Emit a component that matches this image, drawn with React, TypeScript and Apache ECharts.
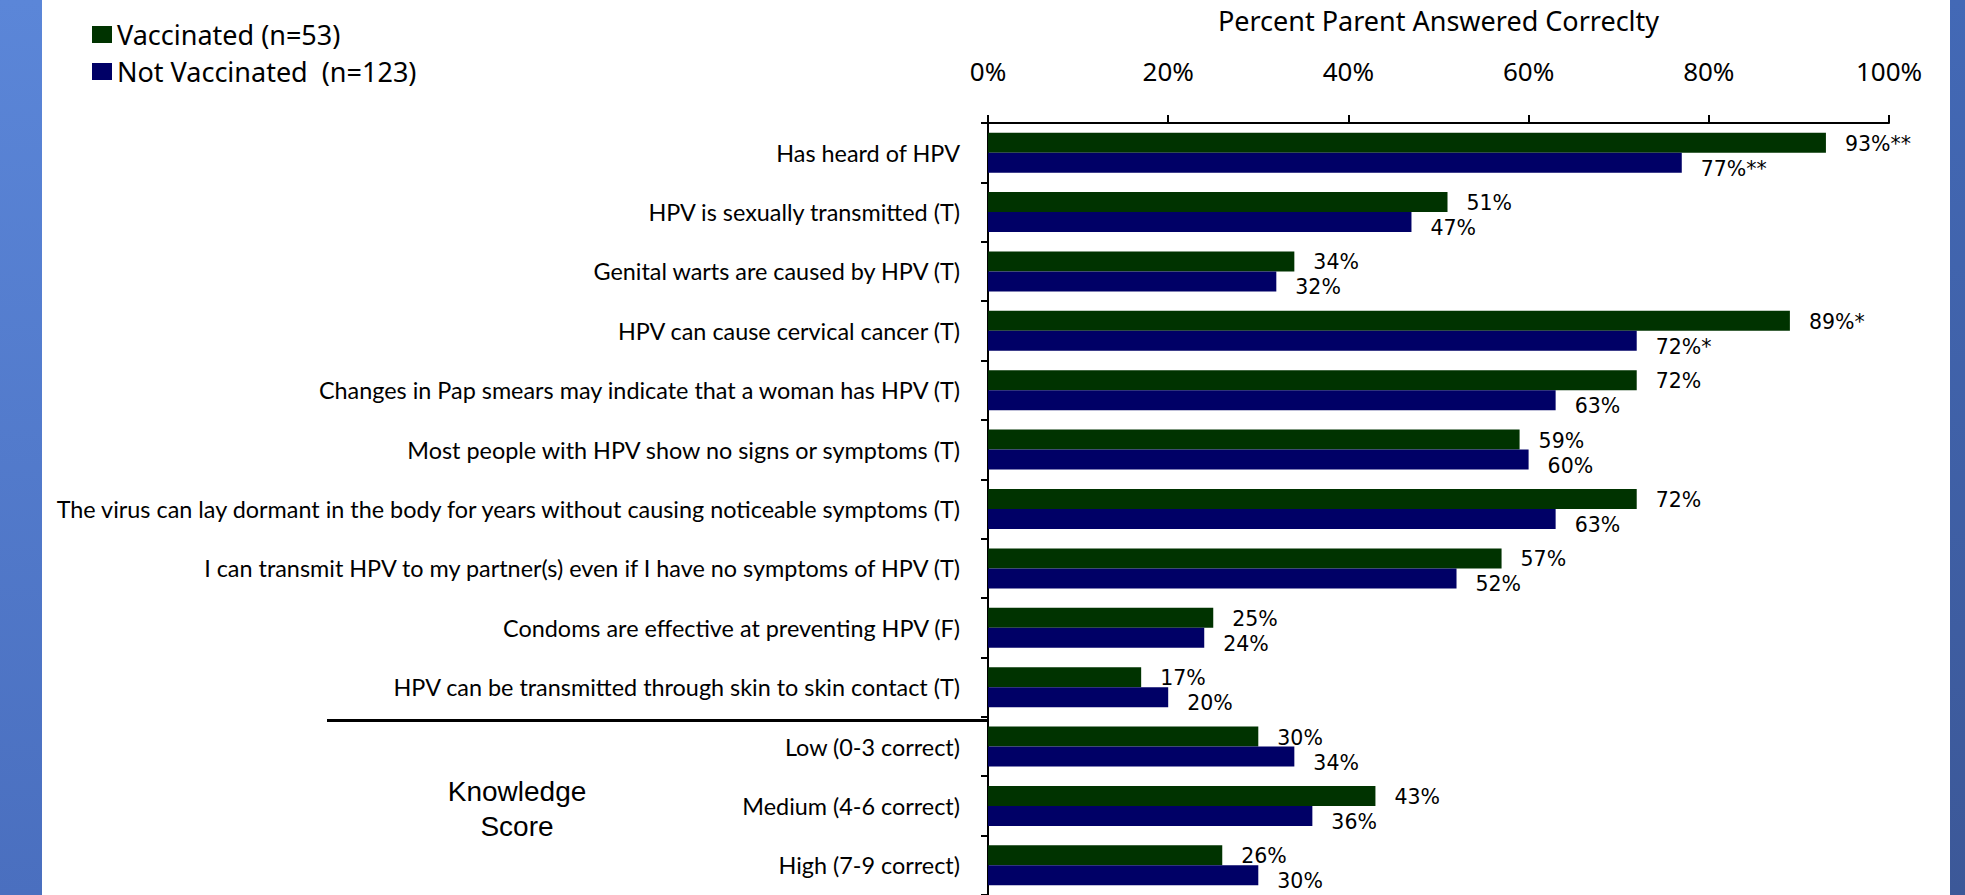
import React, { useEffect, useRef } from "react";
import * as echarts from "echarts";

const categories = [
  "Has heard of HPV",
  "HPV is sexually transmitted (T)",
  "Genital warts are caused by HPV (T)",
  "HPV can cause cervical cancer (T)",
  "Changes in Pap smears may indicate that a woman has HPV (T)",
  "Most people with HPV show no signs or symptoms (T)",
  "The virus can lay dormant in the body for years without causing noticeable symptoms (T)",
  "I can transmit HPV to my partner(s) even if I have no symptoms of HPV (T)",
  "Condoms are effective at preventing HPV (F)",
  "HPV can be transmitted through skin to skin contact (T)",
  "Low (0-3 correct)",
  "Medium (4-6 correct)",
  "High (7-9 correct)",
];
const vaccinated = [93, 51, 34, 89, 72, 59, 72, 57, 25, 17, 30, 43, 26];
const notVaccinated = [77, 47, 32, 72, 63, 60, 63, 52, 24, 20, 34, 36, 30];
const vaccinatedMarks = ["**", "", "", "*", "", "", "", "", "", "", "", "", ""];
const notVaccinatedMarks = ["**", "", "", "*", "", "", "", "", "", "", "", "", ""];
const seriesNames = ["Vaccinated (n=53)", "Not Vaccinated  (n=123)"];
const axisTitle = "Percent Parent Answered Correclty";
const groupTitle = "Knowledge\nScore";
const xMin = 0;
const xMax = 100;
const xInterval = 20;

export default function App() {
  const ref = useRef<HTMLDivElement>(null);
  useEffect(() => {
    if (!ref.current) return;
    const chart = echarts.init(ref.current, undefined, { renderer: "svg" });
    const gridTop = 123;
    const band = 59.85;
    const gridLeft = 988;
    chart.setOption({
      animation: false,
      backgroundColor: "#ffffff",
      legend: {
        orient: "vertical",
        left: 87,
        top: 16,
        itemWidth: 20,
        itemHeight: 17,
        itemGap: 10,
        icon: "rect",
        data: seriesNames,
        textStyle: { fontFamily: "Noto Sans", fontSize: 27, color: "#000", lineHeight: 27 },
      },
      grid: { left: gridLeft, top: gridTop, width: 901, height: band * categories.length, containLabel: false },
      xAxis: {
        type: "value",
        position: "top",
        min: xMin,
        max: xMax,
        interval: xInterval,
        name: axisTitle,
        nameLocation: "middle",
        nameGap: 89,
        nameTextStyle: { fontFamily: "Noto Sans", fontSize: 27, color: "#000" },
        axisLine: { show: true, lineStyle: { color: "#000", width: 2 } },
        axisTick: { show: true, length: 8, lineStyle: { color: "#000", width: 2 } },
        axisLabel: {
          formatter: "{value}%",
          margin: 39,
          fontFamily: "Noto Sans",
          fontSize: 26,
          color: "#000",
        },
        splitLine: { show: false },
      },
      yAxis: {
        type: "category",
        inverse: true,
        data: categories,
        axisLine: { show: true, lineStyle: { color: "#000", width: 2 } },
        axisTick: { show: true, length: 7, lineStyle: { color: "#000", width: 2 } },
        axisLabel: { margin: 28, fontFamily: "Lato", fontSize: 23.4, color: "#000" },
        splitLine: { show: false },
      },
      series: [
        {
          name: seriesNames[0],
          type: "bar",
          data: vaccinated,
          barWidth: 20,
          barGap: "0%",
          itemStyle: { color: "#003300" },
          label: {
            show: true,
            position: "right",
            distance: 19,
            offset: [0, 1],
            fontFamily: "DejaVu Sans",
            fontSize: 20.5,
            color: "#000",
            formatter: (p: any) => `${p.value}%${vaccinatedMarks[p.dataIndex]}`,
          },
        },
        {
          name: seriesNames[1],
          type: "bar",
          data: notVaccinated,
          barWidth: 20,
          barGap: "0%",
          itemStyle: { color: "#000066" },
          label: {
            show: true,
            position: "right",
            distance: 19,
            offset: [0, 6],
            fontFamily: "DejaVu Sans",
            fontSize: 20.5,
            color: "#000",
            formatter: (p: any) => `${p.value}%${notVaccinatedMarks[p.dataIndex]}`,
          },
        },
      ],
      graphic: [
        {
          type: "rect",
          shape: { x: 0, y: 0, width: 42, height: 895 },
          style: {
            fill: new echarts.graphic.LinearGradient(0, 0, 0, 1, [
              { offset: 0, color: "#5b86d8" },
              { offset: 1, color: "#4a6fbf" },
            ]),
          },
          z: 0,
        },
        {
          type: "rect",
          shape: { x: 1950, y: 0, width: 15, height: 895 },
          style: {
            fill: new echarts.graphic.LinearGradient(0, 0, 0, 1, [
              { offset: 0, color: "#4369b6" },
              { offset: 1, color: "#3c5898" },
            ]),
          },
          z: 0,
        },
        {
          type: "line",
          shape: { x1: 327, y1: gridTop + band * 10 - 1, x2: gridLeft, y2: gridTop + band * 10 - 1 },
          style: { stroke: "#000", lineWidth: 3 },
          z: 10,
        },
        {
          type: "text",
          x: 517,
          y: gridTop + band * 11.5 - 2,
          style: {
            text: groupTitle,
            fontFamily: "Liberation Sans",
            fontSize: 28,
            lineHeight: 35,
            fill: "#000",
            align: "center",
            verticalAlign: "middle",
          },
          z: 10,
        },
      ],
    });
    return () => chart.dispose();
  }, []);
  return (
    <div
      ref={ref}
      style={{ position: "absolute", left: 0, top: 0, width: 1965, height: 895, overflow: "hidden" }}
    />
  );
}
